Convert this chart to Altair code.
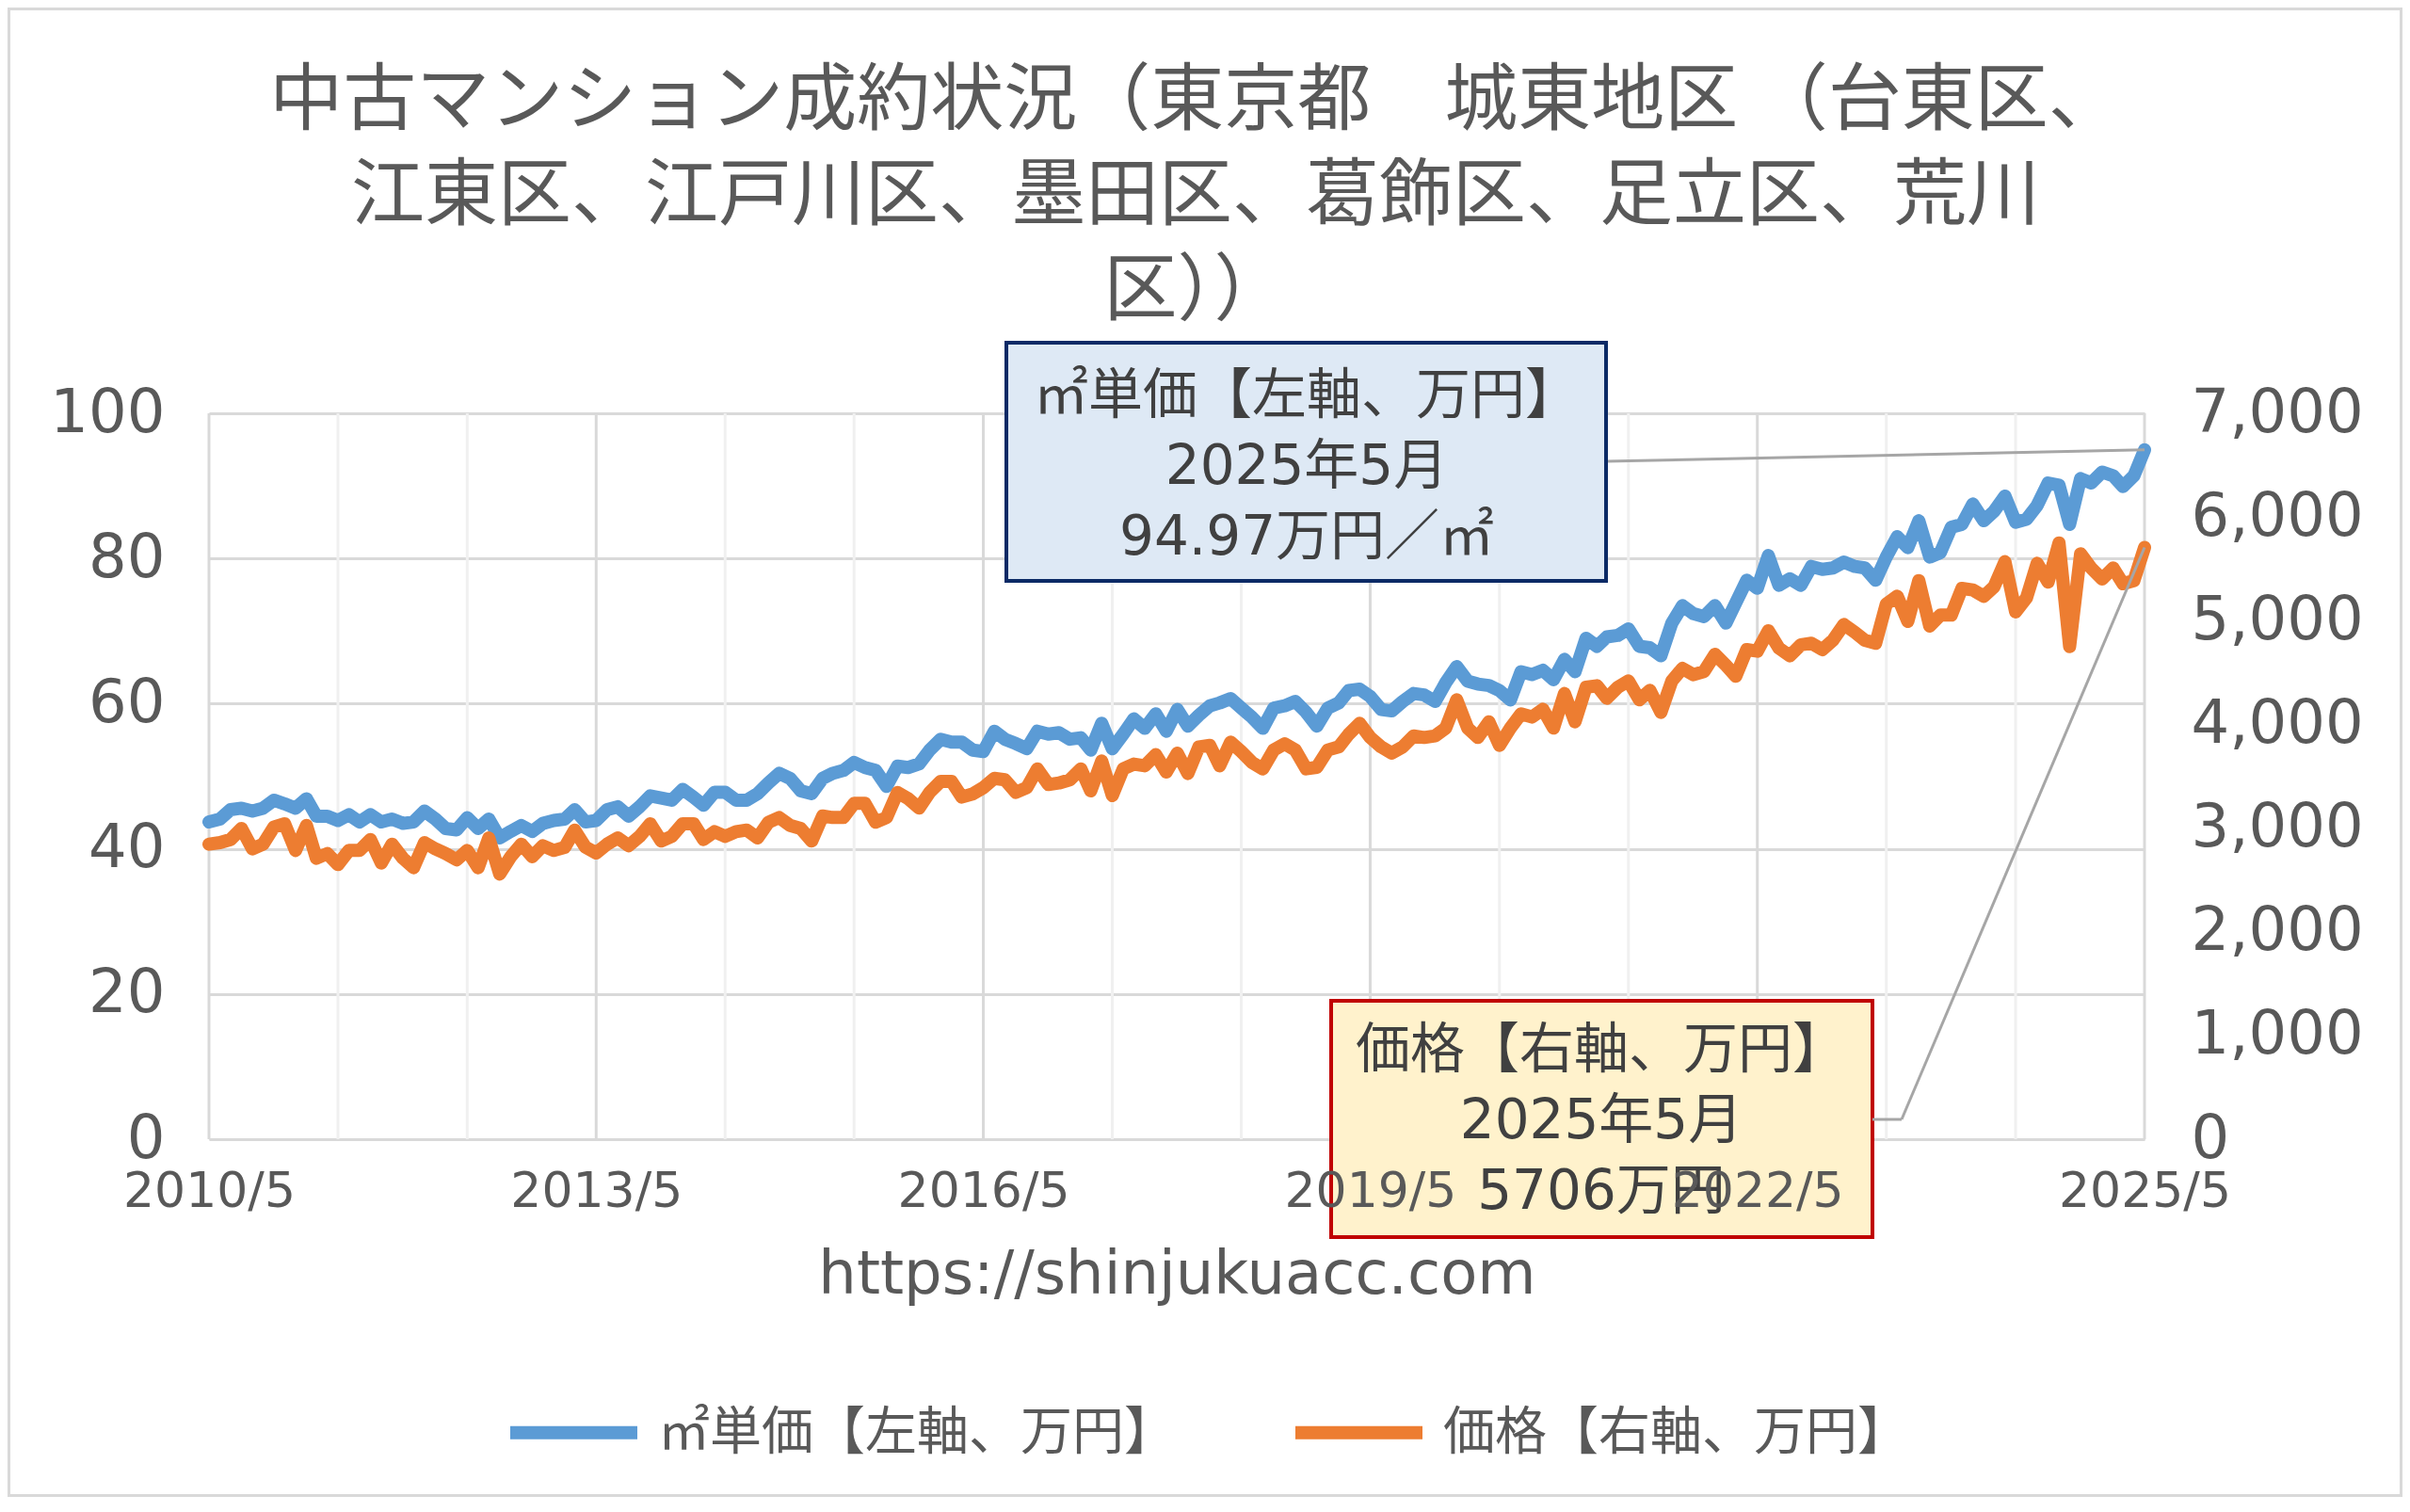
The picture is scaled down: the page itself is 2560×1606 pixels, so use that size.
import altair as alt
import pandas as pd

# ---------------- data ----------------
MONTHS = pd.date_range("2010-05-01", "2025-05-01", freq="MS")

UNIT_PRICE = [  # ㎡単価（万円） 2010/5 .. 2025/5
    43.7, 44.1, 45.4, 45.6, 45.2, 45.6, 46.7, 46.2, 45.6, 46.9, 44.5, 44.5,
    43.9, 44.7, 43.7, 44.7, 43.7, 44.1, 43.5, 43.7, 45.2, 44.1, 42.8, 42.6,
    44.3, 42.8, 44.1, 41.5, 42.4, 43.2, 42.4, 43.5, 43.9, 44.1, 45.4, 43.7,
    43.9, 45.4, 45.8, 44.5, 45.8, 47.3, 47.0, 46.7, 48.2, 47.1, 46.0, 47.8,
    47.8, 46.7, 46.7, 47.6, 49.1, 50.4, 49.7, 48.0, 47.6, 49.7, 50.4, 50.8,
    51.9, 51.2, 50.8, 48.6, 51.4, 51.2, 51.7, 53.6, 55.1, 54.7, 54.7, 53.6,
    53.4, 56.2, 55.1, 54.5, 53.8, 56.2, 55.8, 56.0, 55.1, 55.3, 53.6, 57.3,
    53.8, 55.8, 57.9, 56.6, 58.6, 56.2, 59.2, 56.9, 58.4, 59.7, 60.1, 60.7,
    59.4, 58.1, 56.6, 59.4, 59.7, 60.3, 58.8, 56.9, 59.4, 60.1, 61.8, 62.0,
    61.0, 59.2, 59.0, 60.3, 61.4, 61.2, 60.3, 62.9, 65.1, 63.1, 62.7, 62.5,
    61.8, 60.5, 64.4, 64.0, 64.6, 63.3, 66.1, 64.4, 69.0, 67.9, 69.2, 69.4,
    70.3, 67.9, 67.7, 66.6, 71.1, 73.5, 72.4, 72.0, 73.5, 71.1, 73.9, 77.0,
    75.9, 80.4, 76.3, 77.2, 76.3, 78.9, 78.5, 78.7, 79.5, 78.9, 78.7, 77.0,
    80.2, 83.0, 81.5, 85.2, 80.2, 80.8, 84.3, 84.7, 87.5, 85.2, 86.5, 88.6,
    85.0, 85.4, 87.3, 90.4, 90.1, 84.7, 91.0, 90.4, 91.9, 91.4, 89.9, 91.4,
    94.97,
]

PRICE = [  # 価格（万円） 2010/5 .. 2025/5
    2845, 2860, 2890, 2996, 2799, 2845, 3011, 3042, 2784, 3026, 2709, 2754,
    2648, 2784, 2784, 2890, 2663, 2845, 2709, 2618, 2860, 2799, 2754, 2694,
    2784, 2618, 2905, 2557, 2724, 2845, 2724, 2830, 2784, 2815, 2981, 2815,
    2760, 2845, 2905, 2830, 2920, 3042, 2875, 2920, 3042, 3042, 2890, 2966,
    2920, 2966, 2981, 2905, 3057, 3102, 3026, 2996, 2875, 3117, 3102, 3102,
    3238, 3238, 3057, 3102, 3344, 3284, 3193, 3344, 3450, 3450, 3299, 3329,
    3390, 3480, 3466, 3344, 3390, 3571, 3420, 3435, 3466, 3571, 3359, 3647,
    3314, 3571, 3617, 3601, 3708, 3541, 3723, 3526, 3783, 3798, 3601, 3829,
    3738, 3632, 3571, 3753, 3813, 3753, 3571, 3586, 3753, 3783, 3904, 4010,
    3874, 3783, 3723, 3783, 3889, 3874, 3889, 3965, 4237, 3965, 3874, 4025,
    3798, 3965, 4101, 4071, 4146, 3965, 4298, 4025, 4358, 4373, 4252, 4358,
    4419, 4237, 4328, 4116, 4419, 4540, 4479, 4510, 4676, 4570, 4464, 4721,
    4706, 4903, 4736, 4661, 4767, 4782, 4721, 4812, 4963, 4888, 4812, 4782,
    5160, 5236, 4994, 5387, 4948, 5054, 5054, 5311, 5296, 5236, 5327, 5569,
    5085, 5221, 5553, 5372, 5750, 4751, 5645, 5508, 5402, 5508, 5357, 5387,
    5706,
]

SERIES_NAMES = ["㎡単価【左軸、万円】", "価格【右軸、万円】"]
SERIES_COLORS = ["#5b9bd5", "#ed7d31"]

TITLE_LINES = [
    "中古マンション成約状況（東京都　城東地区 （台東区、",
    "江東区、江戸川区、墨田区、葛飾区、足立区、荒川",
    "区））",
]
SOURCE = "https://shinjukuacc.com"
NOTE_DATE = "2025年5月"

X_TICK_YEARS = [2010, 2013, 2016, 2019, 2022, 2025]
GRID_YEARS = list(range(2010, 2026))
LEFT_TICKS = [0, 20, 40, 60, 80, 100]
RIGHT_TICKS = [0, 1000, 2000, 3000, 4000, 5000, 6000, 7000]

# ---------------- tables ----------------
df = pd.DataFrame({"month": MONTHS, "unit": UNIT_PRICE, "price": PRICE})
last = df.tail(1)
one = pd.DataFrame({"k": [0]})
major_grid = pd.DataFrame({"month": pd.to_datetime([f"{y}-05-01" for y in X_TICK_YEARS])})
minor_grid = pd.DataFrame({"month": pd.to_datetime([f"{y}-05-01" for y in GRID_YEARS if y not in X_TICK_YEARS])})

GREY_TEXT = "#595959"
NUM_FONT = "DejaVu Sans"
JP_FONT = "Noto Sans CJK JP"
MIX_FONT = "DejaVu Sans, Noto Sans CJK JP"

W, H = 2056, 771
PAD = {"left": 214, "top": 431, "right": 274, "bottom": 380}

x_enc = alt.X(
    "month:T",
    scale=alt.Scale(domain=[alt.DateTime(year=2010, month=5, date=1),
                            alt.DateTime(year=2025, month=5, date=1)]),
    axis=alt.Axis(
        values=[alt.DateTime(year=y, month=5, date=1) for y in X_TICK_YEARS],
        format="%Y/%-m", grid=False, ticks=False, domain=False,
        labelFont=NUM_FONT, labelFontSize=52, labelColor=GREY_TEXT, labelLimit=1000,
        labelPadding=30, labelFlush=False, labelOverlap=False, labelBound=False,
        title=SOURCE, titleFont=NUM_FONT, titleFontSize=64, titleFontWeight="normal",
        titleColor=GREY_TEXT, titlePadding=31, titleLimit=2000, zindex=1,
    ),
)

y_left = alt.Y(
    "unit:Q", scale=alt.Scale(domain=[0, 100]),
    axis=alt.Axis(values=LEFT_TICKS, orient="left", grid=True, gridColor="#d9d9d9",
                  gridWidth=3, domain=False, ticks=False, labelFont=NUM_FONT,
                  labelFontSize=64, labelColor=GREY_TEXT, labelPadding=47,
                  labelLimit=1000, title=None),
)
y_right = alt.Y(
    "price:Q", scale=alt.Scale(domain=[0, 7000]),
    axis=alt.Axis(values=RIGHT_TICKS, orient="right", grid=False, format=",d",
                  domain=False, ticks=False, labelFont=NUM_FONT, labelFontSize=64,
                  labelColor=GREY_TEXT, labelPadding=49, labelLimit=1000, title=None),
)

legend = alt.Legend(
    title=None, orient="none", legendX=313, legendY=1008, direction="horizontal",
    symbolType="stroke", symbolSize=18225, symbolStrokeWidth=14,
    labelFont=JP_FONT, labelFontSize=55, labelColor=GREY_TEXT, labelLimit=2000,
    labelOffset=15, columnPadding=98,
)
color_enc = alt.Color("series:N", scale=alt.Scale(domain=SERIES_NAMES, range=SERIES_COLORS),
                      legend=legend)

# ---------------- layers ----------------
grid_minor = alt.Chart(minor_grid).mark_rule(color="#f0f0f0", strokeWidth=3).encode(x=x_enc)
grid_major = alt.Chart(major_grid).mark_rule(color="#d9d9d9", strokeWidth=3).encode(x=x_enc)

blue_line = alt.Chart(df).transform_calculate(series=f"'{SERIES_NAMES[0]}'").mark_line(
    strokeWidth=14, strokeJoin="round", strokeCap="round").encode(x=x_enc, y=y_left, color=color_enc)
blue_leader = alt.Chart(last).mark_rule(color="#a6a6a6", strokeWidth=3).encode(
    x=x_enc, y=y_left, x2=alt.value(1484), y2=alt.value(51))
blue_group = alt.layer(blue_line, blue_leader)

orange_line = alt.Chart(df).transform_calculate(series=f"'{SERIES_NAMES[1]}'").mark_line(
    strokeWidth=14, strokeJoin="round", strokeCap="round").encode(x=x_enc, y=y_right, color=color_enc)
orange_leader = alt.Chart(last).mark_rule(color="#a6a6a6", strokeWidth=3).encode(
    x=x_enc, y=y_right, x2=alt.value(1798), y2=alt.value(750))
orange_group = alt.layer(orange_line, orange_leader)

border = alt.Chart(one).mark_rect(fill="white", fillOpacity=0, stroke="#d9d9d9", strokeWidth=3).encode(
    x=alt.value(-PAD["left"] + 1.5), x2=alt.value(W + PAD["right"] - 1.5),
    y=alt.value(-PAD["top"] + 1.5), y2=alt.value(H + PAD["bottom"] - 1.5))

blue_box = alt.Chart(one).mark_rect(fill="#dee9f5", stroke="#0b2a66", strokeWidth=4).encode(
    x=alt.value(847), x2=alt.value(1484), y=alt.value(-75), y2=alt.value(178))
blue_text = alt.Chart(one).mark_text(
    font=MIX_FONT, fontSize=58, color="#404040", align="center", baseline="middle", lineHeight=75
).encode(x=alt.value(1166), y=alt.value(-17),
         text=alt.value([SERIES_NAMES[0], NOTE_DATE, f"{UNIT_PRICE[-1]:.2f}万円／㎡"]))

orange_box = alt.Chart(one).mark_rect(fill="#fff2cc", stroke="#c00000", strokeWidth=4).encode(
    x=alt.value(1192), x2=alt.value(1767), y=alt.value(624), y2=alt.value(875))
orange_text = alt.Chart(one).mark_text(
    font=MIX_FONT, fontSize=58, color="#404040", align="center", baseline="middle", lineHeight=75
).encode(x=alt.value(1479), y=alt.value(678),
         text=alt.value([SERIES_NAMES[1], NOTE_DATE, f"{PRICE[-1]}万円"]))
orange_leader_h = alt.Chart(one).mark_rule(color="#a6a6a6", strokeWidth=3).encode(
    x=alt.value(1767), x2=alt.value(1798), y=alt.value(750))

chart = alt.layer(
    grid_minor, grid_major, blue_group, orange_group, border,
    blue_box, blue_text, orange_box, orange_text, orange_leader_h,
).resolve_scale(y="independent").properties(
    width=W, height=H, padding=PAD,
    autosize=alt.AutoSizeParams(type="none"),
    background="white",
    title=alt.TitleParams(
        text=TITLE_LINES, font=JP_FONT, fontSize=78, fontWeight="normal", color=GREY_TEXT,
        lineHeight=101, anchor="middle", frame="group", dx=20, offset=-381, baseline="middle",
    ),
).configure_view(stroke=None).configure(font=NUM_FONT)

chart.save("out.html", embed_options={"renderer": "svg", "actions": False})
